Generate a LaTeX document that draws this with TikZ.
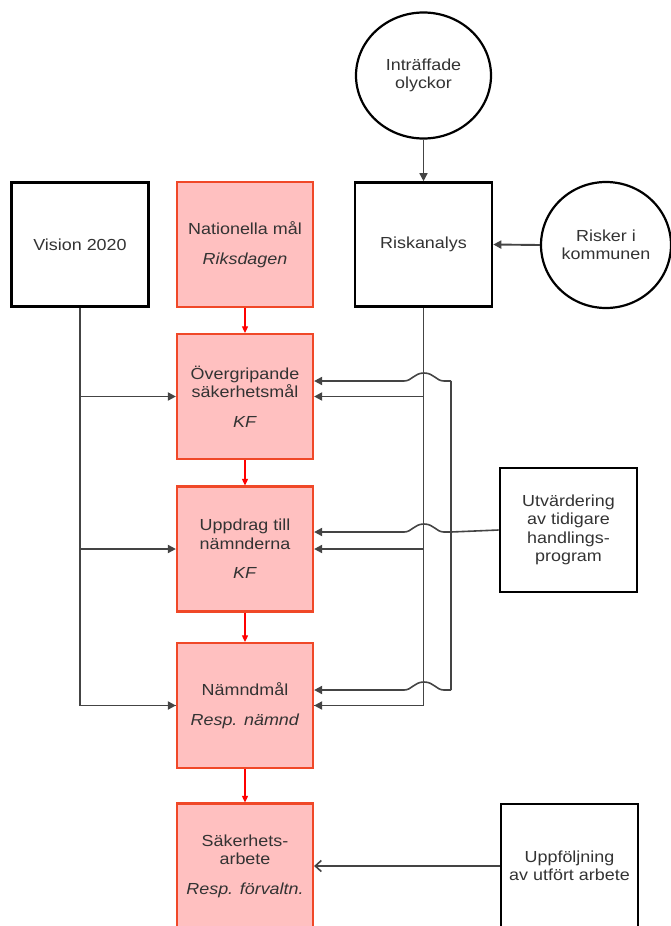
\documentclass[tikz,border=0pt]{standalone}
\usepackage{fontspec}
\setmainfont{Liberation Sans}[FakeStretch=1.12]
\usetikzlibrary{arrows.meta,shapes.geometric,calc}
\definecolor{pinkfill}{HTML}{FFC0C0}
\definecolor{redline}{HTML}{F04828}
\definecolor{txt}{HTML}{333333}
\definecolor{conn}{HTML}{444444}
\begin{document}
\begin{tikzpicture}[x=1pt,y=-1pt,
 every node/.style={font=\fontsize{16}{18.5}\selectfont, text=txt, align=center},
 bbox/.style={draw=black, line width=2.6pt, minimum width=137pt, minimum height=124pt, inner sep=0pt},
 pbox/.style={draw=redline, fill=pinkfill, line width=2.2pt, minimum width=136pt, minimum height=125pt, inner sep=0pt},
 circ/.style={ellipse, draw=black, line width=2.2pt, minimum width=135pt, minimum height=126pt, inner sep=0pt},
 ln/.style={draw=conn, line width=1.6pt},
 arr/.style={ln, line width=1.9pt, -{Triangle[length=8pt,width=8pt]}},
 redarr/.style={draw=red, line width=1.1pt, -{Triangle[length=6.5pt,width=6pt]}},
 openarr/.style={ln, -{Straight Barb[length=6pt,width=11pt]}}
]
\useasboundingbox (0,0) rectangle (671,926);
\node[circ] (inc) at (423.5,75.5) {Inträffade\\olyckor};
\node[bbox] (vis) at (80,244.5) {Vision 2020};
\node[pbox] (nat) at (245,244.5) {Nationella mål\\[11pt]\textit{Riksdagen}};
\node[bbox] (risk) at (423.5,244.5) {Riskanalys};
\node[circ, minimum width=130pt] (rik) at (606,245) {Risker i\\kommunen};
\node[pbox] (ovr) at (245,396.5) {Övergripande\\säkerhetsmål\\[11pt]\textit{KF}};
\node[pbox] (upd) at (245,549) {Uppdrag till\\nämnderna\\[11pt]\textit{KF}};
\node[bbox] (utv) at (568.5,530) {Utvärdering\\av tidigare\\handlings-\\program};
\node[pbox] (nam) at (245,705.5) {Nämndmål\\[11pt]\textit{Resp. nämnd}};
\node[pbox] (sak) at (245,866) {Säkerhets-\\arbete\\[11pt]\textit{Resp. förvaltn.}};
\node[bbox] (upf) at (569.5,866) {Uppföljning\\av utfört arbete};

\draw[redarr] (nat.south) -- (ovr.north);
\draw[redarr] (ovr.south) -- (upd.north);
\draw[redarr] (upd.south) -- (nam.north);
\draw[redarr] (nam.south) -- (sak.north);

\draw[arr, line width=1.5pt] (inc.south) -- (risk.north);
\draw[arr] (rik.west) -- (risk.east);

\draw[ln] (vis.south) |- (nam.west);
\draw[arr] (vis.south |- nam.west) -- (nam.west);
\draw[arr] (vis.south |- ovr.west) -- (ovr.west);
\draw[arr] (vis.south |- upd.west) -- (upd.west);

\draw[ln] (risk.south) |- (nam.east);
\draw[arr] (risk.south |- nam.east) -- (nam.east);
\draw[arr] (risk.south |- ovr.east) -- (ovr.east);
\draw[arr] (risk.south |- upd.east) -- (upd.east);

\coordinate (fb1) at (451,381);
\coordinate (fb2) at (451,532);
\coordinate (fb3) at (451,690);
\draw[ln] (fb1) -- (fb3);
\draw[ln] (utv.west) -- (fb2);
\draw[ln] (fb1) -- (444,381) .. controls (436,381) and (434,373) .. (424,373) .. controls (414,373) and (412,381) .. (404,381);
\draw[arr] (404,381) -- ([yshift=15.5pt]ovr.east);
\draw[ln] (fb2) -- (444,532) .. controls (436,532) and (434,524) .. (424,524) .. controls (414,524) and (412,532) .. (404,532);
\draw[arr] (404,532) -- ([yshift=17pt]upd.east);
\draw[ln] (fb3) -- (444,690) .. controls (436,690) and (434,682) .. (424,682) .. controls (414,682) and (412,690) .. (404,690);
\draw[arr] (404,690) -- ([yshift=15.5pt]nam.east);

\draw[openarr] (upf.west) -- (sak.east);
\end{tikzpicture}
\end{document}
